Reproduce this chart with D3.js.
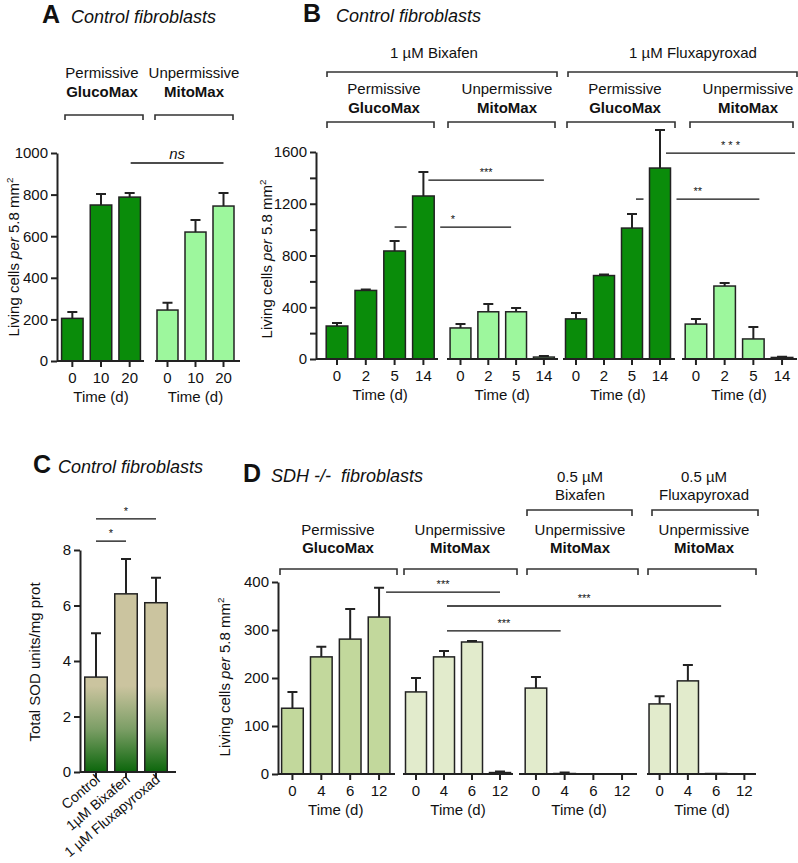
<!DOCTYPE html>
<html>
<head>
<meta charset="utf-8">
<title>Fibroblast growth</title>
<script src="https://cdn.jsdelivr.net/npm/d3@7"></script>
<style>
  body { margin: 0; background: #fff; }
  text { font-family: 'Liberation Sans', Arial, Helvetica, sans-serif; }
</style>
</head>
<body>
<div id="chart"></div>
<script>
// ---- data ----
// A : control fibroblasts, living cells per 5.8 mm2
var daysA = ["0", "10", "20"];
var glucoA = [205, 750, 788], glucoA_sd = [30, 53, 20];
var mitoA = [245, 620, 745], mitoA_sd = [35, 58, 63];
var ticksA = [0, 200, 400, 600, 800, 1000];

// B : control fibroblasts + SDHI
var daysB = ["0", "2", "5", "14"];
var bixGluco = [255, 530, 835, 1260], bixGluco_sd = [23, 8, 77, 185];
var bixMito = [240, 365, 365, 15], bixMito_sd = [30, 60, 30, 8];
var fluxGluco = [310, 645, 1012, 1476], fluxGluco_sd = [45, 8, 108, 294];
var fluxMito = [270, 564, 155, 12], fluxMito_sd = [39, 23, 92, 5];
var ticksB = [0, 200, 400, 600, 800, 1000, 1200, 1400, 1600];

// C : total SOD
var sodCats = ["Control", "1µM Bixafen", "1 µM Fluxapyroxad"];
var sodMean = [3.42, 6.42, 6.1], sodSd = [1.58, 1.26, 0.9];
var ticksC = [0, 2, 4, 6, 8];

// D : SDH -/- fibroblasts
var daysD = ["0", "4", "6", "12"];
var sdhGluco = [137, 244, 281, 327], sdhGluco_sd = [34, 21, 63, 61];
var sdhMito = [171, 244, 275, 3], sdhMito_sd = [29, 12, 2, 2];
var sdhBix = [179, 1, 0, 0], sdhBix_sd = [23, 2, 0, 0];
var sdhFlux = [146, 194, 1, 0], sdhFlux_sd = [16, 33, 0, 0];
var ticksD = [0, 100, 200, 300, 400];

// ---- style ----
var ink = "#222";
var green = "#0a8c0a", lightGreen = "#9df79d";
var olive = "#c2d89c", paleOlive = "#e2ebcc";

var svg = d3.select("#chart").append("svg")
    .attr("width", 798).attr("height", 863);

function txt(x, y, s, size, opt) {
    opt = opt || {};
    var t = svg.append("text").attr("x", x).attr("y", y)
        .attr("font-size", size).attr("fill", "#111")
        .attr("text-anchor", opt.anchor || "middle")
        .text(s);
    if (opt.bold) t.attr("font-weight", "bold");
    if (opt.italic) t.attr("font-style", "italic");
    if (opt.pre) t.style("white-space", "pre");
    return t;
}

function bracket(x0, x1, y, drop) {
    svg.append("path")
        .attr("d", "M" + x0 + "," + (y + drop) + "V" + y + "H" + x1 + "V" + (y + drop))
        .attr("fill", "none").attr("stroke", "#333").attr("stroke-width", 1.6);
}

function styleAxis(g) {
    g.selectAll("path, line").attr("stroke", ink).attr("stroke-width", 2);
    g.selectAll("text").attr("font-size", 15).attr("fill", "#111")
        .attr("font-family", null);
}

function yAxis(y, x, ticks, fmt) {
    var ax = d3.axisLeft(y).tickValues(ticks).tickSize(6).tickSizeOuter(0).tickPadding(3)
        .tickFormat(fmt || String);
    var g = svg.append("g").attr("transform", "translate(" + x + ",0)").call(ax);
    styleAxis(g);
}

function yLabel(x, y, size) {
    var t = svg.append("text")
        .attr("transform", "translate(" + x + "," + y + ") rotate(-90)")
        .attr("text-anchor", "middle").attr("font-size", size).attr("fill", "#111");
    t.append("tspan").text("Living cells ");
    t.append("tspan").attr("font-style", "italic").text("per");
    t.append("tspan").text(" 5.8 mm");
    t.append("tspan").attr("font-size", size * 0.65).attr("dy", -6).text("2");
}

// one block of bars sharing an x axis piece
function group(y, days, mean, sd, range, fill, line, timeLabel) {
    var x = d3.scaleBand().domain(days).range(range)
        .paddingInner(0.25).paddingOuter(0.125);
    var rows = days.map(function (d, i) { return { d: d, m: mean[i], s: sd[i] }; });
    var g = svg.append("g");
    var bw = x.bandwidth();

    g.selectAll("path.err").data(rows.filter(function (r) { return r.s > 0; }))
        .join("path").attr("class", "err")
        .attr("d", function (r) {
            var cx = x(r.d) + bw / 2, top = y(r.m + r.s);
            return "M" + cx + "," + y(r.m) + "V" + top + "M" + (cx - 5) + "," + top + "H" + (cx + 5);
        })
        .attr("stroke", ink).attr("stroke-width", 2).attr("fill", "none");

    g.selectAll("rect").data(rows).join("rect")
        .attr("x", function (r) { return x(r.d); })
        .attr("width", bw)
        .attr("y", function (r) { return y(r.m); })
        .attr("height", function (r) { return y(0) - y(r.m); })
        .attr("fill", fill).attr("stroke", ink).attr("stroke-width", 1.5);

    var ax = g.append("g").attr("transform", "translate(0," + y(0) + ")")
        .call(d3.axisBottom(x).tickSize(6).tickSizeOuter(0).tickPadding(5));
    ax.select(".domain").remove();
    styleAxis(ax);
    g.append("line").attr("x1", line[0]).attr("x2", line[1])
        .attr("y1", y(0)).attr("y2", y(0))
        .attr("stroke", ink).attr("stroke-width", 2);

    if (timeLabel !== false)
        txt((range[0] + range[1]) / 2, y(0) + 41, "Time (d)", 15);
    return x;
}

function mid(x, c) { return x(c) + x.bandwidth() / 2; }

// significance line, optional gap around one bar
function sig(y, v, x1, x2, label, gapX, gapCat) {
    var yy = y(v), segs = [[x1, x2]];
    if (gapX) {
        var a = gapX(gapCat) - 6, b = gapX(gapCat) + gapX.bandwidth() + 6;
        segs = [[x1, a], [b, x2]];
    }
    segs.forEach(function (s) {
        svg.append("line").attr("x1", s[0]).attr("x2", s[1])
            .attr("y1", yy).attr("y2", yy)
            .attr("stroke", "#111").attr("stroke-width", 1.3);
    });
    var t = txt((x1 + x2) / 2, yy - 4, label, 11);
    if (label === "ns") t.attr("font-size", 15).attr("font-style", "italic");
    t.style("white-space", "pre");
}

// ================= A =================
txt(42, 23, "A", 25, { bold: true, anchor: "start" });
txt(71, 23, "Control fibroblasts", 18, { italic: true, anchor: "start" });
txt(102, 78, "Permissive", 15); txt(102, 97, "GlucoMax", 15, { bold: true });
txt(194, 78, "Unpermissive", 15); txt(194, 97, "MitoMax", 15, { bold: true });
bracket(65, 143, 115, 5); bracket(155, 233, 115, 5);

var yA = d3.scaleLinear().domain([0, 1000]).range([361, 153]);
yAxis(yA, 57, ticksA);
var aG1 = group(yA, daysA, glucoA, glucoA_sd, [58, 144], green, [57, 144]);
var aG2 = group(yA, daysA, mitoA, mitoA_sd, [153.5, 237.5], lightGreen, [155, 240]);
yLabel(19, 257, 15);
sig(yA, 952, mid(aG1, "20") + 1, mid(aG2, "20"), "ns");

// ================= B =================
txt(303, 22, "B", 25, { bold: true, anchor: "start" });
txt(336, 22, "Control fibroblasts", 18, { italic: true, anchor: "start" });
txt(434, 58, "1 µM Bixafen", 15); txt(693, 58, "1 µM Fluxapyroxad", 15);
bracket(327, 557, 72, 5); bracket(568, 797, 72, 5);
[[384, "Permissive", "GlucoMax"], [507, "Unpermissive", "MitoMax"],
 [625, "Permissive", "GlucoMax"], [748, "Unpermissive", "MitoMax"]].forEach(function (h) {
    txt(h[0], 94, h[1], 15); txt(h[0], 113, h[2], 15, { bold: true });
});
bracket(327, 434, 122, 6); bracket(448, 555, 122, 6);
bracket(567, 675, 122, 6); bracket(690, 793, 122, 6);

var yB = d3.scaleLinear().domain([0, 1600]).range([359, 152]);
yAxis(yB, 316, ticksB, function (d) { return d % 400 === 0 ? String(d) : ""; });
var bG1 = group(yB, daysB, bixGluco, bixGluco_sd, [322.6, 437.8], green, [316, 438]);
var bG2 = group(yB, daysB, bixMito, bixMito_sd, [446.6, 557.8], lightGreen, [447, 558]);
var bG3 = group(yB, daysB, fluxGluco, fluxGluco_sd, [562, 674], green, [563, 675]);
var bG4 = group(yB, daysB, fluxMito, fluxMito_sd, [681.6, 796.4], lightGreen, [682, 797]);
yLabel(272, 259, 15);
sig(yB, 1020, mid(bG1, "5"), mid(bG2, "5") - 5, "*", bG1, "14");
sig(yB, 1383, mid(bG1, "14") + 5, mid(bG2, "14"), "***");
sig(yB, 1236, mid(bG3, "5") + 4, mid(bG4, "5") + 6, "**", bG3, "14");
sig(yB, 1592, mid(bG3, "14") + 6, mid(bG4, "14") + 13, "* * *");

// ================= C =================
txt(33, 473, "C", 25, { bold: true, anchor: "start" });
txt(58, 473, "Control fibroblasts", 18, { italic: true, anchor: "start" });
var yC = d3.scaleLinear().domain([0, 8]).range([772, 550]);

var grad = svg.append("defs").append("linearGradient").attr("id", "sodGrad")
    .attr("gradientUnits", "userSpaceOnUse")
    .attr("x1", 0).attr("x2", 0).attr("y1", yC(0)).attr("y2", yC(3.1));
grad.append("stop").attr("offset", 0).attr("stop-color", "#0b660b");
grad.append("stop").attr("offset", 0.5).attr("stop-color", "#7c9e66");
grad.append("stop").attr("offset", 1).attr("stop-color", "#cbc49f");

yAxis(yC, 80, ticksC);
var xC = group(yC, sodCats, sodMean, sodSd, [81, 171], "url(#sodGrad)", [80, 176], false);
svg.selectAll(".tick text").filter(function (d) { return sodCats.indexOf(d) >= 0; }).remove();
sodCats.forEach(function (c) {
    svg.append("text")
        .attr("transform", "translate(" + (mid(xC, c) + 5) + "," + (yC(0) + 9) + ") rotate(-40)")
        .attr("text-anchor", "end").attr("font-size", 14).attr("fill", "#111").text(c);
});
svg.append("text").attr("transform", "translate(40,662) rotate(-90)")
    .attr("text-anchor", "middle").attr("font-size", 15).attr("fill", "#111")
    .text("Total SOD units/mg prot");
sig(yC, 8.32, mid(xC, sodCats[0]), mid(xC, sodCats[1]), "*");
sig(yC, 9.12, mid(xC, sodCats[0]), mid(xC, sodCats[2]), "*");

// ================= D =================
txt(243, 482, "D", 25, { bold: true, anchor: "start" });
txt(271, 482, "SDH -/-  fibroblasts", 18, { italic: true, anchor: "start", pre: true });
txt(580, 482, "0.5 µM", 15); txt(580, 500, "Bixafen", 15);
txt(704, 482, "0.5 µM", 15); txt(704, 500, "Fluxapyroxad", 15);
bracket(527, 632, 510, 6); bracket(652, 758, 510, 6);
[[338, "Permissive", "GlucoMax"], [460, "Unpermissive", "MitoMax"],
 [580, "Unpermissive", "MitoMax"], [704, "Unpermissive", "MitoMax"]].forEach(function (h) {
    txt(h[0], 535, h[1], 15); txt(h[0], 553, h[2], 15, { bold: true });
});
bracket(280, 397, 569, 6); bracket(404, 517, 569, 6);
bracket(527, 638, 569, 6); bracket(648, 756, 569, 6);

var yD = d3.scaleLinear().domain([0, 400]).range([774, 582]);
yAxis(yD, 278, ticksD);
var dG1 = group(yD, daysD, sdhGluco, sdhGluco_sd, [278, 393.5], olive, [278, 395]);
var dG2 = group(yD, daysD, sdhMito, sdhMito_sd, [402, 514], paleOlive, [403, 513]);
var dG3 = group(yD, daysD, sdhBix, sdhBix_sd, [521.6, 636.4], paleOlive, [519, 637]);
var dG4 = group(yD, daysD, sdhFlux, sdhFlux_sd, [645.5, 758.5], paleOlive, [647, 756]);
yLabel(230, 677, 15);
sig(yD, 379, mid(dG1, "12") + 7, mid(dG2, "12"), "***");
sig(yD, 350, mid(dG2, "4") + 3, mid(dG4, "6") + 5, "***");
sig(yD, 298, mid(dG2, "4") + 3, mid(dG3, "4") - 4, "***");
</script>
</body>
</html>
